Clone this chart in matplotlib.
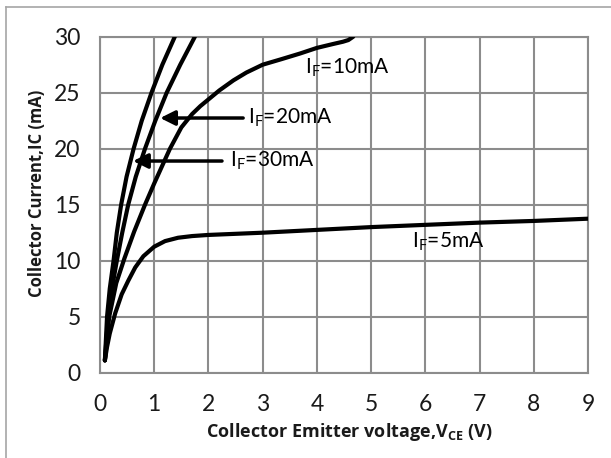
import numpy as np
import matplotlib
matplotlib.use('Agg')
import matplotlib.pyplot as plt
from matplotlib.lines import Line2D

# Curvas IC vs VCE (IF = 5, 10, 20, 30 mA)
vce_5 = [0.09, 0.13, 0.18, 0.28, 0.4, 0.52, 0.65, 0.8, 1.0, 1.2, 1.44,
         1.7, 2.0, 3.0, 4.0, 5.0, 6.0, 7.0, 8.0, 9.0]
ic_5 = [1.1, 2.3, 3.5, 5.3, 7.0, 8.2, 9.4, 10.4, 11.25, 11.75, 12.05,
        12.2, 12.3, 12.5, 12.75, 13.0, 13.2, 13.4, 13.55, 13.75]

vce_10 = [0.09, 0.13, 0.17, 0.3, 0.45, 0.63, 0.83, 1.0, 1.29, 1.5, 1.7, 1.85,
          2.0, 2.2, 2.46, 2.7, 3.0, 3.35, 3.69, 4.0, 4.3, 4.48, 4.58, 4.67]
ic_10 = [1.1, 3.0, 5.0, 8.0, 10.2, 12.6, 15.0, 16.9, 20.0, 21.9, 23.1, 23.8,
         24.4, 25.2, 26.1, 26.8, 27.5, 28.0, 28.5, 29.0, 29.35, 29.55, 29.7, 30.0]

vce_20 = [0.09, 0.15, 0.22, 0.31, 0.41, 0.52, 0.66, 0.83, 1.02, 1.23, 1.48, 1.75]
ic_20 = [1.1, 5.0, 7.5, 10.0, 12.5, 15.0, 17.5, 20.0, 22.5, 25.0, 27.5, 30.0]

vce_30 = [0.09, 0.13, 0.18, 0.25, 0.31, 0.39, 0.49, 0.62, 0.77, 0.95, 1.15, 1.38]
ic_30 = [1.1, 5.0, 7.5, 10.0, 12.5, 15.0, 17.5, 20.0, 22.5, 25.0, 27.5, 30.0]

x_ticks = list(range(0, 10))
y_ticks = [0, 5, 10, 15, 20, 25, 30]

fuente = 'Lato'
plt.rcParams['font.family'] = [fuente, 'DejaVu Sans']
plt.rcParams['mathtext.fontset'] = 'custom'
plt.rcParams['mathtext.rm'] = fuente
plt.rcParams['mathtext.bf'] = 'Open Sans:bold'

fig = plt.figure(figsize=(6.11, 4.58), dpi=100)
ax = fig.add_axes([100 / 611, 1 - 372.7 / 458, 488 / 611, 336 / 458])

for xs, ys in [(vce_5, ic_5), (vce_10, ic_10), (vce_20, ic_20), (vce_30, ic_30)]:
    ax.plot(xs, ys, color='black', linewidth=3, solid_capstyle='round',
            solid_joinstyle='round', zorder=3)

ax.set_xlim(0, 9)
ax.set_ylim(0, 30)
ax.set_xticks(x_ticks)
ax.set_yticks(y_ticks)
ax.grid(True, color='#8c8c8c', linewidth=1.5)
ax.set_axisbelow(True)
for s in ax.spines.values():
    s.set_color('#8c8c8c')
    s.set_linewidth(1.5)
ax.tick_params(length=0, labelsize=16.5, colors='#1a1a1a')
ax.tick_params(axis='x', pad=15)
ax.tick_params(axis='y', pad=14)

# Etiquetas de ejes
etq = dict(ha='center', va='center', fontweight='bold', color='#1a1a1a',
           family=['Open Sans', 'DejaVu Sans'])
fig.text(349 / 611, 1 - 432 / 458, r'Collector Emitter voltage,V$_\mathbf{CE}$ (V)',
         fontsize=13, **etq)
fig.text(37 / 611, 1 - 193 / 458, 'Collector Current,IC (mA)', rotation=90,
         fontsize=12, **etq)

# Anotaciones
kw = dict(fontsize=15, color='black', va='center', ha='left')
ax.text(3.78, 27.2, r'I$_\mathregular{F}$=10mA', **kw)
ax.text(2.73, 22.74, r'I$_\mathregular{F}$=20mA', **kw)
ax.text(2.40, 18.9, r'I$_\mathregular{F}$=30mA', **kw)
ax.text(5.75, 11.67, r'I$_\mathregular{F}$=5mA', **kw)

flecha = dict(arrowstyle='-|>', color='black', lw=2.5, mutation_scale=22,
              shrinkA=0, shrinkB=0)
ax.annotate('', xy=(1.11, 22.74), xytext=(2.64, 22.74), arrowprops=flecha)
ax.annotate('', xy=(0.61, 18.9), xytext=(2.25, 18.9), arrowprops=flecha)

# Borde del area del grafico (cortado a la derecha y abajo)
fig.add_artist(Line2D([5.5 / 611, 5.5 / 611], [0, 1 - 7 / 458], color='#a6a6a6', lw=1.2))
fig.add_artist(Line2D([5.5 / 611, 1], [1 - 7 / 458, 1 - 7 / 458], color='#a6a6a6', lw=1.2))

fig.savefig('out.png', dpi=100)
